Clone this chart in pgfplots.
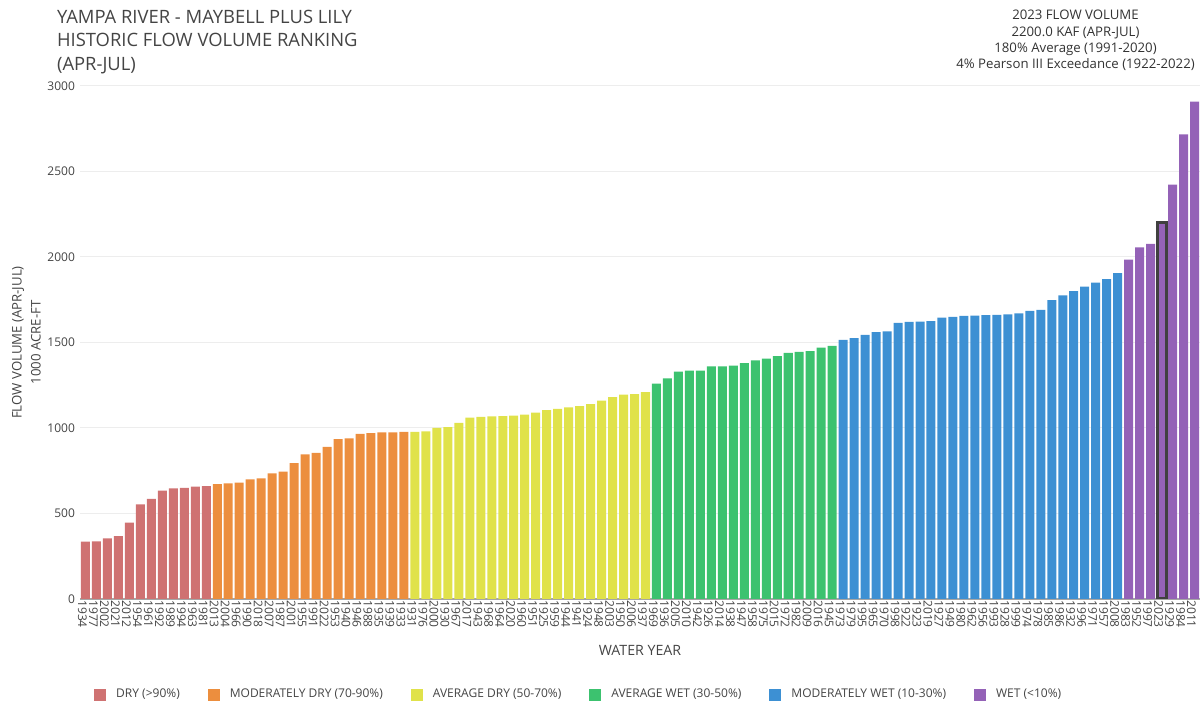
\documentclass[border=0pt]{standalone}
\usepackage{fontspec}
\setmainfont{Open Sans}
\usepackage{pgfplots}
\pgfplotsset{compat=1.18}
\definecolor{cdry}{HTML}{CF7272}
\definecolor{cmdry}{HTML}{EC8E3E}
\definecolor{cadry}{HTML}{E0E24A}
\definecolor{cawet}{HTML}{3CC26F}
\definecolor{cmwet}{HTML}{3D90D3}
\definecolor{cwet}{HTML}{9462B7}
\definecolor{txt}{HTML}{444444}
\begin{document}
\begin{tikzpicture}
\path[use as bounding box] (0pt,0pt) rectangle (601pt,352pt);
\begin{axis}[
  at={(40pt,52.5pt)}, anchor=south west,
  width=560pt, height=256.5pt, scale only axis,
  xmin=-0.5, xmax=101.5, ymin=0, ymax=3000,
  axis x line*=bottom, axis y line*=left,
  x axis line style={draw=black!35, line width=1pt},
  y axis line style={draw=none},
  ytick={0,500,...,3000},
  ymajorgrids, grid style={draw=black!7, line width=0.5pt},
  major tick length=0pt,
  /pgf/number format/1000 sep={},
  /pgf/number format/assume math mode=true,
  yticklabel style={font=\fontsize{6}{7}\selectfont, text=txt, xshift=1pt},
  xtick={0,...,101},
  xticklabels={1934,1977,2002,2021,2012,1954,1961,1992,1989,1994,1963,1981,
    2013,2004,1966,1990,2018,2007,1987,2001,1955,1991,2022,1953,1940,1946,1988,1935,1939,1933,
    1931,1976,2000,1930,1967,2017,1943,1968,1964,2020,1960,1951,1925,1959,1944,1941,1924,1948,2003,1950,2006,1937,
    1969,1936,2005,2010,1942,1926,2014,1938,1947,1958,1975,2015,1972,1982,2009,2016,1945,
    1973,1979,1995,1965,1970,1998,1922,1923,2019,1927,1949,1980,1962,1956,1993,1928,1999,1974,1978,1985,1986,1932,1996,1971,1957,2008,
    1983,1952,1997,2023,1929,1984,2011},
  xticklabel style={rotate=-90, anchor=west, font=\fontsize{6}{6}\selectfont, text=txt, inner sep=0.5pt, yshift=-1.5pt},
  xlabel={WATER YEAR},
  xlabel style={at={(axis description cs:0.5,-0.0994)}, anchor=center, font=\fontsize{7.1}{8}\selectfont, text=txt},
  ylabel={FLOW VOLUME (APR-JUL)\\1000 ACRE-FT},
  ylabel style={at={(axis description cs:-0.0478,0.5)}, anchor=center, align=center, font=\fontsize{6.6}{9.5}\selectfont, text=txt},
  mybar/.style={ybar, bar width=0.82, bar shift=0pt, draw=none,
    legend image code/.code={\fill[##1] (0pt,-3pt) rectangle (6pt,3pt);}},
  legend columns=6,
  legend style={at={(axis description cs:0.007,-0.187)}, anchor=west, draw=none, fill=none,
    font=\fontsize{6}{6}\selectfont, text=txt,
    /tikz/every even column/.append style={column sep=12pt},
    /tikz/every odd column/.append style={column sep=3pt}},
]
\addplot[mybar, fill=cdry] coordinates {(0,335)(1,337)(2,355)(3,368)(4,446)(5,554)(6,585)(7,633)(8,647)(9,650)(10,657)(11,660)};
\addlegendentry{DRY (>90\%)}
\addplot[mybar, fill=cmdry] coordinates {(12,672)(13,676)(14,680)(15,700)(16,705)(17,735)(18,745)(19,795)(20,845)(21,855)(22,890)(23,935)(24,940)(25,965)(26,970)(27,975)(28,975)(29,977)};
\addlegendentry{MODERATELY DRY (70-90\%)}
\addplot[mybar, fill=cadry] coordinates {(30,978)(31,980)(32,1000)(33,1005)(34,1030)(35,1060)(36,1065)(37,1068)(38,1070)(39,1072)(40,1078)(41,1090)(42,1105)(43,1112)(44,1120)(45,1128)(46,1140)(47,1160)(48,1180)(49,1195)(50,1198)(51,1210)};
\addlegendentry{AVERAGE DRY (50-70\%)}
\addplot[mybar, fill=cawet] coordinates {(52,1260)(53,1290)(54,1330)(55,1335)(56,1335)(57,1360)(58,1360)(59,1365)(60,1380)(61,1395)(62,1405)(63,1420)(64,1440)(65,1445)(66,1450)(67,1470)(68,1480)};
\addlegendentry{AVERAGE WET (30-50\%)}
\addplot[mybar, fill=cmwet] coordinates {(69,1515)(70,1525)(71,1545)(72,1560)(73,1565)(74,1615)(75,1620)(76,1622)(77,1625)(78,1645)(79,1650)(80,1655)(81,1657)(82,1660)(83,1662)(84,1665)(85,1670)(86,1685)(87,1690)(88,1748)(89,1775)(90,1800)(91,1826)(92,1850)(93,1871)(94,1906)};
\addlegendentry{MODERATELY WET (10-30\%)}
\addplot[mybar, fill=cwet] coordinates {(95,1984)(96,2056)(97,2076)(98,2200)(99,2423)(100,2717)(101,2908)};
\addlegendentry{WET (<10\%)}
\addplot[mybar, fill=cwet, draw=black!75, line width=1.5pt, forget plot] coordinates {(98,2200)};
\end{axis}
\node[anchor=north west, align=left, font=\fontsize{9.2}{11.75}\selectfont, text=txt] at (25pt,350.5pt)
  {YAMPA RIVER - MAYBELL PLUS LILY\\HISTORIC FLOW VOLUME RANKING\\(APR-JUL)};
\node[anchor=north, align=center, font=\fontsize{6.6}{8.2}\selectfont, text=black!80] at (537.75pt,350.5pt)
  {2023 FLOW VOLUME\\2200.0 KAF (APR-JUL)\\180\% Average (1991-2020)\\4\% Pearson III Exceedance (1922-2022)};
\end{tikzpicture}
\end{document}
